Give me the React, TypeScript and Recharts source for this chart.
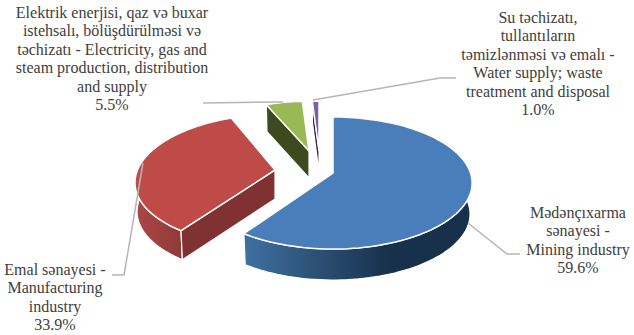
import React from "react";
import { PieChart, Pie, Cell } from "recharts";

const categories = ["Mining", "Manufacturing", "Electricity", "Water"];
const values = [59.6, 33.9, 5.5, 1.0];
const labelLines = [
  ["Mədənçıxarma", "sənayesi -", "Mining industry"],
  ["Emal sənayesi -", "Manufacturing", "industry"],
  ["Elektrik enerjisi, qaz və buxar", "istehsalı, bölüşdürülməsi və", "təchizatı - Electricity, gas and", "steam production, distribution", "and supply"],
  ["Su təchizatı,", "tullantıların", "təmizlənməsi və emalı -", "Water supply; waste", "treatment and disposal"],
];
const faceColors = ["#4a7ebb", "#be4b48", "#98b954", "#7d60a0"];
const cutColors = ["#1b3550", "#7f3231", "#3d4a20", "#2c2140"];
const wallFrom = ["#3f6f9f", "#aa4745", "#4a5a26", "#2c2140"];
const wallTo = ["#17304b", "#8c3836", "#3d4a20", "#2c2140"];

// look of the tilted pie
const tiltY = 64.5;
const perspective = 0.1515;
const explodeX = [0, -58, -24, -14];
const explodeY = [0, -3, -22, -22];
const sliceScale = [1, 1, 0.89, 0.89];
const sliceShear = [0, -0.08, 0, 0];
const sliceDepth = [31, 29, 27, 21];
const wallShrink = 0.985;

const labelX = [578, 55, 112, 538];
const labelY = [218, 275, 18, 23];
const lineHeight = 18.4;
const leaders = [
  "468,223 507,254 520,254",
  "143,163 124,275 112,275",
  "283,102 203,103",
  "313,100 440,78 456,78",
];

const project = (clock: number, r: number, cx: number, cy: number, shear: number) => {
  const rad = (clock * Math.PI) / 180;
  const u = Math.sin(rad);
  const v = -Math.cos(rad);
  const w = 1 - perspective * v;
  const dy = ((r / 137.5) * tiltY * v) / w;
  return [cx + (r * u) / w + shear * dy, cy + dy];
};

const arc = (from: number, to: number, r: number, cx: number, cy: number, shear: number) => {
  const out: number[][] = [];
  const n = Math.max(2, Math.ceil(Math.abs(to - from) / 2));
  for (let i = 0; i <= n; i++) out.push(project(from + ((to - from) * i) / n, r, cx, cy, shear));
  return out;
};

const toPath = (pts: number[][]) =>
  "M" + pts.map((p) => p[0].toFixed(1) + "," + p[1].toFixed(1)).join("L") + "Z";

function TiltedSlice(props: any) {
  const { cx, cy, outerRadius, startAngle, endAngle, index } = props;
  const x = cx + explodeX[index];
  const y = cy + explodeY[index];
  const r = outerRadius * sliceScale[index];
  const d = sliceDepth[index];
  const s = sliceShear[index];
  const from = 90 - startAngle;
  const to = 90 - endAngle;
  const top = arc(from, to, r, x, y, s);
  const lower = (p: number[]) => [x + (p[0] - x) * wallShrink, p[1] + d];
  const wall = [...top, ...[...top].reverse().map(lower)];
  const end = project(from, r, x, y, s);
  const cut = [[x, y], end, lower(end), [x, y + d]];
  const endCut = project(to, r, x, y, s);
  const cut2 = [[x, y], endCut, lower(endCut), [x, y + d]];
  const gradId = "wall" + index;
  return (
    <g>
      <defs>
        <linearGradient id={gradId} gradientUnits="userSpaceOnUse" x1={index === 0 ? 247 : x - r} x2={index === 0 ? 390 : x - r + 50} y1={0} y2={0}>
          <stop offset="0%" stopColor={wallFrom[index]} />
          <stop offset="100%" stopColor={wallTo[index]} />
        </linearGradient>
      </defs>
      <path d={toPath(wall)} fill={`url(#${gradId})`} stroke="#fff" strokeWidth={1.2} />
      {index === 1 && <path d={toPath(cut2)} fill={cutColors[index]} stroke="none" />}
      {index > 0 && <path d={toPath(cut)} fill={cutColors[index]} stroke="#fff" strokeWidth={1.2} />}
      <path d={toPath([[x, y], ...top])} fill={faceColors[index]} stroke="#fff" strokeWidth={1.5} />
    </g>
  );
}

const renderLabel = (props: any) => {
  const i = props.index;
  const lines = [...labelLines[i], values[i].toFixed(1) + "%"];
  return (
    <text x={labelX[i]} y={labelY[i]} textAnchor="middle" fill="#404040" fontFamily="Liberation Serif" fontSize={16}>
      {lines.map((t, k) => (
        <tspan key={k} x={labelX[i]} y={labelY[i] + k * lineHeight}>{t}</tspan>
      ))}
    </text>
  );
};

const renderLeader = (props: any) => (
  <polyline points={leaders[props.index]} fill="none" stroke="#b5b5b5" strokeWidth={1.5} />
);

export default function App() {
  const data = categories.map((name, i) => ({ name, value: values[i] }));
  return (
    <div style={{ position: "absolute", left: 0, top: 0, width: 634, height: 335 }}>
      <PieChart width={634} height={335} margin={{ top: 0, right: 0, bottom: 0, left: 0 }}>
        <Pie
          data={data}
          dataKey="value"
          cx={333}
          cy={173}
          outerRadius={137.5}
          startAngle={90}
          endAngle={-270}
          paddingAngle={0}
          stroke="none"
          shape={TiltedSlice}
          label={renderLabel}
          labelLine={renderLeader}
          isAnimationActive={false}
        >
          {data.map((d, i) => (
            <Cell key={d.name} fill={faceColors[i]} />
          ))}
        </Pie>
      </PieChart>
    </div>
  );
}
